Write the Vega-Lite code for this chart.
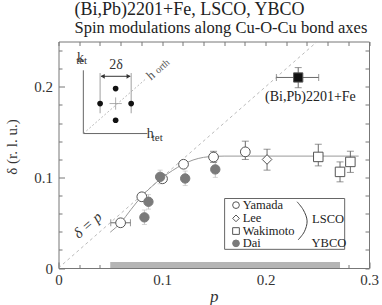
{
  "$schema": "https://vega.github.io/schema/vega-lite/v6.json",
  "width": 310.5,
  "height": 226.5,
  "autosize": {"type": "none"},
  "padding": {"left": 58.5, "top": 41.5, "right": 13, "bottom": 37},
  "title": {
    "text": "(Bi,Pb)2201+Fe, LSCO, YBCO",
    "subtitle": "Spin modulations along Cu-O-Cu bond axes",
    "font": "Liberation Serif, Times New Roman, Times, serif", "fontSize": 18, "fontWeight": "normal", "color": "#222",
    "subtitleFont": "Liberation Serif, Times New Roman, Times, serif", "subtitleFontSize": 16.5, "subtitleColor": "#222", "subtitlePadding": 1, "subtitleLineHeight": 17,
    "anchor": "start", "frame": "group", "dx": 16, "offset": 3
  },
  "config": {
    "view": {"stroke": "#777", "strokeWidth": 1},
    "axis": {"labelFont": "Liberation Serif, Times New Roman, Times, serif", "titleFont": "Liberation Serif, Times New Roman, Times, serif", "labelColor": "#333", "titleColor": "#333", "labelFontSize": 15, "titleFontSize": 15, "titleFontWeight": "normal", "tickColor": "#777", "domain": false, "grid": false, "zindex": 1},
    "text": {"font": "Liberation Serif, Times New Roman, Times, serif", "color": "#222"}
  },
  "datasets": {
    "pts": [
      {"s": "Yamada", "p": 0.06, "d": 0.0499, "plo": 0.0505, "phi": 0.0695},
      {"s": "Yamada", "p": 0.0805, "d": 0.0786},
      {"s": "Yamada", "p": 0.1005, "d": 0.0985},
      {"s": "Yamada", "p": 0.1208, "d": 0.1145},
      {"s": "Yamada", "p": 0.1498, "d": 0.1225, "dlo": 0.1165, "dhi": 0.1288},
      {"s": "Yamada", "p": 0.1805, "d": 0.1282, "dlo": 0.1198, "dhi": 0.14},
      {"s": "Lee", "p": 0.2015, "d": 0.1198, "dlo": 0.108, "dhi": 0.1311},
      {"s": "Wakimoto", "p": 0.251, "d": 0.1226, "dlo": 0.1127, "dhi": 0.1366},
      {"s": "Wakimoto", "p": 0.272, "d": 0.1061, "dlo": 0.0951, "dhi": 0.1171},
      {"s": "Wakimoto", "p": 0.282, "d": 0.1171, "dlo": 0.1055, "dhi": 0.1289},
      {"s": "(Bi,Pb)2201+Fe", "p": 0.2316, "d": 0.2103, "dlo": 0.199, "dhi": 0.2212, "plo": 0.2105, "phi": 0.2514},
      {"s": "Dai", "p": 0.0982, "d": 0.1006, "dlo": 0.093, "dhi": 0.108},
      {"s": "Dai", "p": 0.0869, "d": 0.0731, "dlo": 0.065, "dhi": 0.081},
      {"s": "Dai", "p": 0.083, "d": 0.0559, "dlo": 0.048, "dhi": 0.064},
      {"s": "Dai", "p": 0.1224, "d": 0.0988, "dlo": 0.091, "dhi": 0.107},
      {"s": "Dai", "p": 0.1515, "d": 0.1088, "dlo": 0.1, "dhi": 0.118}
    ],
    "curve": [
      {"p": 0.05, "d": 0.0395},
      {"p": 0.06, "d": 0.0499},
      {"p": 0.07, "d": 0.0645},
      {"p": 0.08, "d": 0.0786},
      {"p": 0.09, "d": 0.0898},
      {"p": 0.1, "d": 0.0995},
      {"p": 0.11, "d": 0.1075},
      {"p": 0.12, "d": 0.1142},
      {"p": 0.13, "d": 0.1192},
      {"p": 0.14, "d": 0.1221},
      {"p": 0.15, "d": 0.1232},
      {"p": 0.16, "d": 0.1235},
      {"p": 0.29, "d": 0.1235}
    ],
    "diag": [{"p": 0, "d": 0}, {"p": 0.249, "d": 0.249}],
    "band": [{"pmin": 0.05, "pmax": 0.272}],
    "legend": [
      {"s": "Yamada", "d": 0.0694},
      {"s": "Lee", "d": 0.0548},
      {"s": "Wakimoto", "d": 0.0408},
      {"s": "Dai", "d": 0.0272}
    ],
    "paren": [
      {"o": 0, "p": 0.2305, "d": 0.0731},
      {"o": 1, "p": 0.2365, "d": 0.0642},
      {"o": 2, "p": 0.2402, "d": 0.052},
      {"o": 3, "p": 0.2375, "d": 0.04},
      {"o": 4, "p": 0.2315, "d": 0.031}
    ],
    "insetAxes": [
      {"o": 0, "p": 0.024, "d": 0.2182},
      {"o": 1, "p": 0.024, "d": 0.1484},
      {"o": 2, "p": 0.0859, "d": 0.1484}
    ],
    "insetDiag": [{"p": 0.024, "d": 0.1484}, {"p": 0.085, "d": 0.2094}],
    "insetDots": [
      {"p": 0.0402, "d": 0.1815},
      {"p": 0.0702, "d": 0.1815},
      {"p": 0.0552, "d": 0.198},
      {"p": 0.0552, "d": 0.1631}
    ],
    "insetBrackets": [{"p": 0.0402}, {"p": 0.0702}]
  },
  "layer": [
    {
      "layer": [
        {
          "data": {"name": "band"},
          "mark": {"type": "rect", "fill": "#b5b5b5"},
          "encoding": {
            "x": {"field": "pmin", "type": "quantitative", "title": "p", "scale": {"domain": [0, 0.3], "nice": false, "zero": false}},
            "x2": {"field": "pmax"},
            "y": {"datum": 0, "type": "quantitative", "title": "δ (r. l. u.)", "scale": {"domain": [0, 0.25], "nice": false}},
            "y2": {"datum": 0.0066}
          }
        },
        {
          "data": {"name": "diag"},
          "mark": {"type": "line", "stroke": "#a8a8a8", "strokeWidth": 0.8, "strokeDash": [3, 3]},
          "encoding": {
            "x": {"field": "p", "type": "quantitative", "title": "p",
              "axis": {"title": "p", "orient": "bottom", "values": [0, 0.1, 0.2, 0.3],
                "labelExpr": "datum.value == 0 ? '0' : format(datum.value, '.1f')",
                "tickSize": -6, "labelPadding": 10, "labelOverlap": false, "labelFlush": false,
                "titleFontStyle": "italic", "titleFontSize": 17, "titleY": 28, "titleBaseline": "middle"}},
            "y": {"field": "d", "type": "quantitative", "title": "δ (r. l. u.)",
              "axis": {"title": "δ (r. l. u.)", "orient": "left", "values": [0, 0.1, 0.2],
                "labelExpr": "datum.value == 0 ? '0' : format(datum.value, '.1f')",
                "tickSize": -6, "labelPadding": 12, "labelOverlap": false, "labelFlush": false,
                "titleX": -47, "titleY": 105, "titleAngle": -90, "titleAlign": "center", "titleBaseline": "middle"}}
          }
        },
        {
          "data": {"name": "curve"},
          "mark": {"type": "line", "stroke": "#999", "strokeWidth": 1, "interpolate": "monotone"},
          "encoding": {"x": {"field": "p", "type": "quantitative", "title": "p"}, "y": {"field": "d", "type": "quantitative", "title": "δ (r. l. u.)"}}
        },
        {
          "data": {"name": "pts"},
          "transform": [{"filter": "datum.s == 'Dai'"}],
          "mark": {"type": "errorbar", "ticks": {"size": 5}, "color": "#c4c4c4"},
          "encoding": {"x": {"field": "p", "type": "quantitative", "title": "p"}, "y": {"field": "dlo", "type": "quantitative", "title": "δ (r. l. u.)"}, "y2": {"field": "dhi", "title": "δ (r. l. u.)"}}
        },
        {
          "data": {"name": "pts"},
          "transform": [{"filter": "datum.s != 'Dai' && isValid(datum.dlo)"}],
          "mark": {"type": "errorbar", "ticks": {"size": 7}, "color": "#6a6a6a"},
          "encoding": {"x": {"field": "p", "type": "quantitative", "title": "p"}, "y": {"field": "dlo", "type": "quantitative", "title": "δ (r. l. u.)"}, "y2": {"field": "dhi", "title": "δ (r. l. u.)"}}
        },
        {
          "data": {"name": "pts"},
          "transform": [{"filter": "isValid(datum.plo)"}],
          "mark": {"type": "errorbar", "ticks": {"size": 7}, "color": "#6a6a6a"},
          "encoding": {"y": {"field": "d", "type": "quantitative", "title": "δ (r. l. u.)"}, "x": {"field": "plo", "type": "quantitative", "title": "p"}, "x2": {"field": "phi", "title": "p"}}
        },
        {
          "data": {"name": "pts"},
          "mark": {"type": "point", "filled": true, "opacity": 1, "strokeWidth": 1},
          "encoding": {
            "x": {"field": "p", "type": "quantitative", "title": "p"},
            "y": {"field": "d", "type": "quantitative", "title": "δ (r. l. u.)"},
            "shape": {"field": "s", "type": "nominal", "legend": null, "scale": {"domain": ["Yamada", "Lee", "Wakimoto", "Dai", "(Bi,Pb)2201+Fe"], "range": ["circle", "diamond", "square", "circle", "square"]}},
            "fill": {"field": "s", "type": "nominal", "legend": null, "scale": {"domain": ["Yamada", "Lee", "Wakimoto", "Dai", "(Bi,Pb)2201+Fe"], "range": ["#ffffff", "#ffffff", "#ffffff", "#7a7a7a", "#111111"]}},
            "stroke": {"field": "s", "type": "nominal", "legend": null, "scale": {"domain": ["Yamada", "Lee", "Wakimoto", "Dai", "(Bi,Pb)2201+Fe"], "range": ["#555555", "#555555", "#555555", "#7a7a7a", "#555555"]}},
            "size": {"field": "s", "type": "ordinal", "legend": null, "scale": {"domain": ["Yamada", "Lee", "Wakimoto", "Dai", "(Bi,Pb)2201+Fe"], "range": [95, 85, 90, 85, 200]}}
          }
        },
        {
          "data": {"values": [{"label": "(Bi,Pb)2201+Fe"}]},
          "mark": {"type": "text", "fontSize": 14, "align": "center", "baseline": "middle"},
          "encoding": {"x": {"datum": 0.2434, "type": "quantitative", "title": "p"}, "y": {"datum": 0.189, "type": "quantitative", "title": "δ (r. l. u.)"}, "text": {"field": "label"}}
        },
        {
          "data": {"values": [{"label": "δ = p"}]},
          "mark": {"type": "text", "fontSize": 15, "fontStyle": "italic", "angle": -41, "align": "center", "baseline": "middle", "color": "#333"},
          "encoding": {"x": {"datum": 0.0281, "type": "quantitative", "title": "p"}, "y": {"datum": 0.0474, "type": "quantitative", "title": "δ (r. l. u.)"}, "text": {"field": "label"}}
        },
        {
          "data": {"values": [{}]},
          "mark": {"type": "rect", "fill": "#ffffff", "stroke": "#666", "strokeWidth": 1},
          "encoding": {"x": {"datum": 0.1605, "type": "quantitative", "title": "p"}, "x2": {"datum": 0.2765}, "y": {"datum": 0.0767, "type": "quantitative", "title": "δ (r. l. u.)"}, "y2": {"datum": 0.0206}}
        },
        {
          "data": {"name": "legend"},
          "mark": {"type": "point", "filled": true, "opacity": 1, "strokeWidth": 1, "size": 45},
          "encoding": {
            "x": {"datum": 0.1715, "type": "quantitative", "title": "p"},
            "y": {"field": "d", "type": "quantitative", "title": "δ (r. l. u.)"},
            "shape": {"field": "s", "type": "nominal", "legend": null},
            "fill": {"field": "s", "type": "nominal", "legend": null},
            "stroke": {"field": "s", "type": "nominal", "legend": null}
          }
        },
        {
          "data": {"name": "legend"},
          "mark": {"type": "text", "fontSize": 12.5, "align": "left", "baseline": "middle"},
          "encoding": {"x": {"datum": 0.1779, "type": "quantitative", "title": "p"}, "y": {"field": "d", "type": "quantitative", "title": "δ (r. l. u.)"}, "text": {"field": "s"}}
        },
        {
          "data": {"values": [{"t": "LSCO", "p": 0.245, "d": 0.0538}, {"t": "YBCO", "p": 0.2445, "d": 0.0272}]},
          "mark": {"type": "text", "fontSize": 12.5, "align": "left", "baseline": "middle"},
          "encoding": {"x": {"field": "p", "type": "quantitative", "title": "p"}, "y": {"field": "d", "type": "quantitative", "title": "δ (r. l. u.)"}, "text": {"field": "t"}}
        },
        {
          "data": {"name": "paren"},
          "mark": {"type": "line", "stroke": "#444", "strokeWidth": 1, "interpolate": "catmull-rom"},
          "encoding": {"x": {"field": "p", "type": "quantitative", "title": "p"}, "y": {"field": "d", "type": "quantitative", "title": "δ (r. l. u.)"}, "order": {"field": "o"}}
        },
        {
          "data": {"name": "insetAxes"},
          "mark": {"type": "line", "stroke": "#666", "strokeWidth": 1},
          "encoding": {"x": {"field": "p", "type": "quantitative", "title": "p"}, "y": {"field": "d", "type": "quantitative", "title": "δ (r. l. u.)"}, "order": {"field": "o"}}
        },
        {
          "data": {"name": "insetDiag"},
          "mark": {"type": "line", "stroke": "#a8a8a8", "strokeWidth": 0.8, "strokeDash": [2, 2]},
          "encoding": {"x": {"field": "p", "type": "quantitative", "title": "p"}, "y": {"field": "d", "type": "quantitative", "title": "δ (r. l. u.)"}}
        },
        {
          "data": {"name": "insetBrackets"},
          "mark": {"type": "rule", "stroke": "#888", "strokeWidth": 0.8},
          "encoding": {"x": {"field": "p", "type": "quantitative", "title": "p"}, "y": {"datum": 0.1708, "type": "quantitative", "title": "δ (r. l. u.)"}, "y2": {"datum": 0.2152}}
        },
        {
          "data": {"values": [{}]},
          "mark": {"type": "rule", "stroke": "#333", "strokeWidth": 1},
          "encoding": {"x": {"datum": 0.0412, "type": "quantitative", "title": "p"}, "x2": {"datum": 0.0692}, "y": {"datum": 0.2116, "type": "quantitative", "title": "δ (r. l. u.)"}}
        },
        {
          "data": {"values": [{"p": 0.0427, "h": "triangle-left"}, {"p": 0.0677, "h": "triangle-right"}]},
          "mark": {"type": "point", "filled": true, "opacity": 1, "color": "#333", "size": 22},
          "encoding": {"x": {"field": "p", "type": "quantitative", "title": "p"}, "y": {"datum": 0.2116, "type": "quantitative", "title": "δ (r. l. u.)"}, "shape": {"field": "h", "type": "nominal", "scale": null, "legend": null}}
        },
        {
          "data": {"values": [{}]},
          "mark": {"type": "point", "shape": "M-1,0H1M0,-1V1", "filled": false, "opacity": 1, "stroke": "#999", "strokeWidth": 0.8, "size": 150},
          "encoding": {"x": {"datum": 0.0552, "type": "quantitative", "title": "p"}, "y": {"datum": 0.1815, "type": "quantitative", "title": "δ (r. l. u.)"}}
        },
        {
          "data": {"name": "insetDots"},
          "mark": {"type": "point", "filled": true, "opacity": 1, "color": "#111", "size": 32},
          "encoding": {"x": {"field": "p", "type": "quantitative", "title": "p"}, "y": {"field": "d", "type": "quantitative", "title": "δ (r. l. u.)"}}
        },
        {
          "data": {"values": [
            {"t": "2δ", "p": 0.0556, "d": 0.2237, "fs": "normal", "z": 14, "a": "center"},
            {"t": "k", "p": 0.0212, "d": 0.2314, "fs": "italic", "z": 14, "a": "right"},
            {"t": "tet", "p": 0.0224, "d": 0.2287, "fs": "normal", "z": 11, "a": "left"},
            {"t": "h", "p": 0.0886, "d": 0.1482, "fs": "italic", "z": 14, "a": "left"},
            {"t": "tet", "p": 0.0954, "d": 0.1433, "fs": "normal", "z": 11, "a": "left"}
          ]},
          "mark": {"type": "text", "baseline": "middle", "color": "#333"},
          "encoding": {
            "x": {"field": "p", "type": "quantitative", "title": "p"},
            "y": {"field": "d", "type": "quantitative", "title": "δ (r. l. u.)"},
            "text": {"field": "t"},
            "fontStyle": {"field": "fs", "type": "nominal", "scale": null, "legend": null},
            "size": {"field": "z", "type": "quantitative", "scale": null, "legend": null},
            "align": {"field": "a", "type": "nominal", "scale": null, "legend": null}
          }
        },
        {
          "data": {"values": [
            {"t": "h", "p": 0.0893, "d": 0.2125, "fs": "italic", "z": 13},
            {"t": "orth", "p": 0.1003, "d": 0.2225, "fs": "normal", "z": 10}
          ]},
          "mark": {"type": "text", "baseline": "middle", "align": "center", "angle": -41, "color": "#555"},
          "encoding": {
            "x": {"field": "p", "type": "quantitative", "title": "p"},
            "y": {"field": "d", "type": "quantitative", "title": "δ (r. l. u.)"},
            "text": {"field": "t"},
            "fontStyle": {"field": "fs", "type": "nominal", "scale": null, "legend": null},
            "size": {"field": "z", "type": "quantitative", "scale": null, "legend": null}
          }
        }
      ]
    },
    {
      "data": {"name": "diag"},
      "mark": {"type": "point", "opacity": 0},
      "encoding": {
        "x": {"field": "p", "type": "quantitative", "title": null,
          "axis": {"title": null, "orient": "top", "values": [0, 0.02, 0.04, 0.06, 0.08, 0.1, 0.12, 0.14, 0.16, 0.18, 0.2, 0.22, 0.24, 0.26, 0.28, 0.3], "labels": false, "tickSize": -4}},
        "y": {"field": "d", "type": "quantitative", "title": null,
          "axis": {"title": null, "orient": "right", "values": [0, 0.02, 0.04, 0.06, 0.08, 0.1, 0.12, 0.14, 0.16, 0.18, 0.2, 0.22, 0.24], "labels": false, "tickSize": -4}}
      }
    },
    {
      "data": {"name": "diag"},
      "mark": {"type": "point", "opacity": 0},
      "encoding": {
        "x": {"field": "p", "type": "quantitative", "title": null,
          "axis": {"title": null, "orient": "bottom", "values": [0.02, 0.04, 0.06, 0.08, 0.12, 0.14, 0.16, 0.18, 0.22, 0.24, 0.26, 0.28], "labels": false, "tickSize": -3.5}},
        "y": {"field": "d", "type": "quantitative", "title": null,
          "axis": {"title": null, "orient": "left", "values": [0.02, 0.04, 0.06, 0.08, 0.12, 0.14, 0.16, 0.18, 0.22, 0.24], "labels": false, "tickSize": -3.5}}
      }
    }
  ],
  "resolve": {"axis": {"x": "independent", "y": "independent"}}
}
